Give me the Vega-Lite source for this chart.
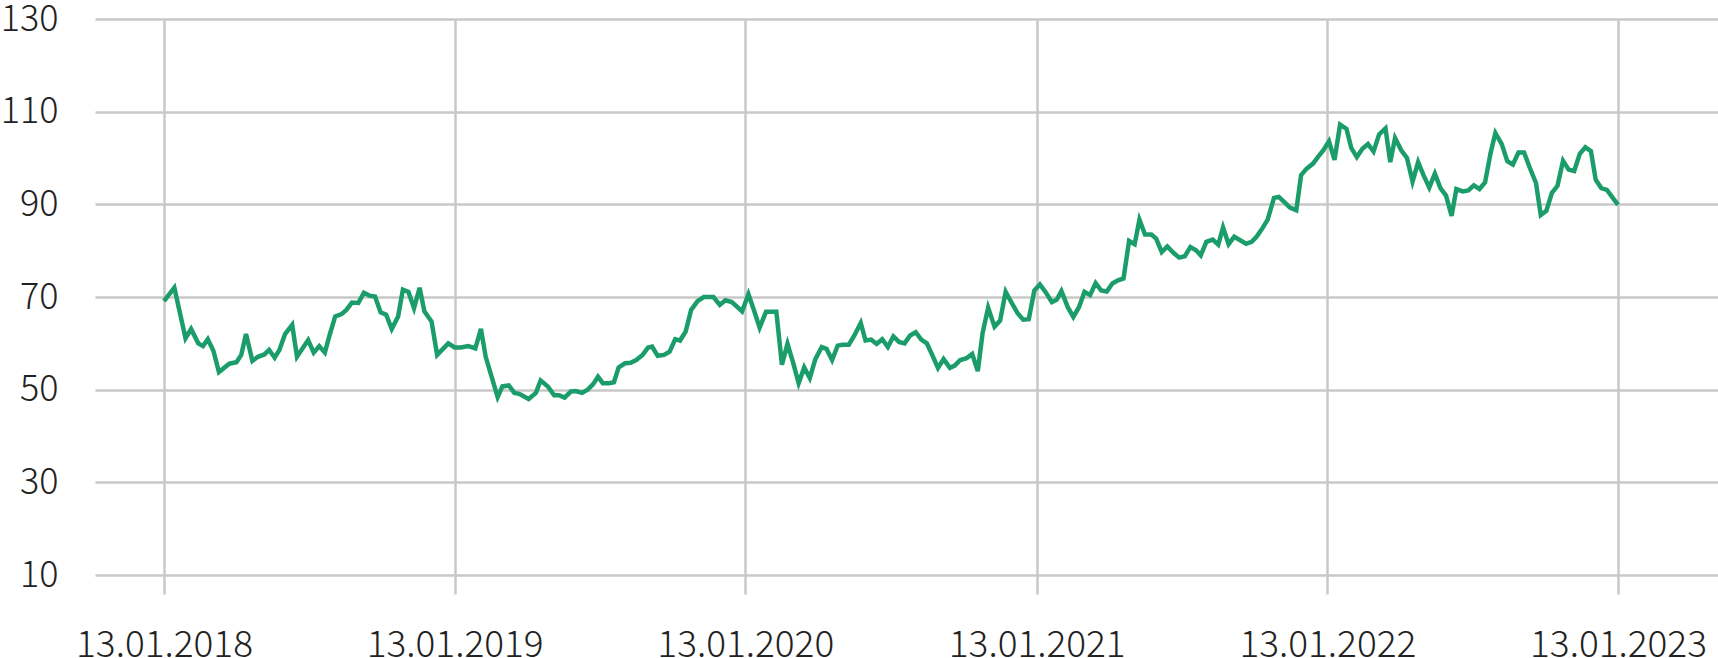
{
  "$schema": "https://vega.github.io/schema/vega-lite/v6.json",
  "autosize": {"type": "none"},
  "width": 1623,
  "height": 556,
  "padding": {"left": 95, "top": 19, "right": 0, "bottom": 83},
  "background": "white",
  "config": {"view": {"stroke": null}},
  "data": {"values": [
    {"date":"2018-01-13","value":69.1},{"date":"2018-01-26","value":72.0},{"date":"2018-02-09","value":61.1},{"date":"2018-02-16","value":63.1},{"date":"2018-02-25","value":60.0},{"date":"2018-03-03","value":59.4},{"date":"2018-03-09","value":60.9},{"date":"2018-03-16","value":58.4},{"date":"2018-03-23","value":53.8},{"date":"2018-04-05","value":55.6},{"date":"2018-04-14","value":55.9},{"date":"2018-04-20","value":57.5},{"date":"2018-04-26","value":62.0},{"date":"2018-05-04","value":56.2},{"date":"2018-05-11","value":57.1},{"date":"2018-05-19","value":57.6},{"date":"2018-05-25","value":58.6},{"date":"2018-06-01","value":56.9},{"date":"2018-06-07","value":58.6},{"date":"2018-06-14","value":62.0},{"date":"2018-06-23","value":64.0},{"date":"2018-06-29","value":57.1},{"date":"2018-07-13","value":60.7},{"date":"2018-07-20","value":58.0},{"date":"2018-07-27","value":59.4},{"date":"2018-08-03","value":58.0},{"date":"2018-08-09","value":61.8},{"date":"2018-08-16","value":65.8},{"date":"2018-08-24","value":66.3},{"date":"2018-08-30","value":67.2},{"date":"2018-09-06","value":68.8},{"date":"2018-09-14","value":68.7},{"date":"2018-09-21","value":70.9},{"date":"2018-09-28","value":70.3},{"date":"2018-10-05","value":70.1},{"date":"2018-10-12","value":66.7},{"date":"2018-10-19","value":66.2},{"date":"2018-10-26","value":63.1},{"date":"2018-11-03","value":65.8},{"date":"2018-11-09","value":71.6},{"date":"2018-11-16","value":71.1},{"date":"2018-11-23","value":67.6},{"date":"2018-11-30","value":72.0},{"date":"2018-12-06","value":66.9},{"date":"2018-12-15","value":64.7},{"date":"2018-12-22","value":57.5},{"date":"2019-01-05","value":60.0},{"date":"2019-01-13","value":59.1},
    {"date":"2019-01-21","value":59.1},{"date":"2019-01-30","value":59.4},{"date":"2019-02-08","value":58.9},{"date":"2019-02-15","value":63.1},{"date":"2019-02-21","value":57.1},{"date":"2019-03-08","value":48.4},{"date":"2019-03-14","value":50.7},{"date":"2019-03-22","value":50.9},{"date":"2019-03-29","value":49.3},{"date":"2019-04-04","value":49.1},{"date":"2019-04-16","value":48.0},{"date":"2019-04-25","value":49.3},{"date":"2019-05-01","value":52.0},{"date":"2019-05-10","value":50.7},{"date":"2019-05-18","value":48.8},{"date":"2019-05-24","value":48.8},{"date":"2019-05-31","value":48.3},{"date":"2019-06-08","value":49.6},{"date":"2019-06-14","value":49.7},{"date":"2019-06-22","value":49.3},{"date":"2019-06-29","value":50.0},{"date":"2019-07-06","value":51.2},{"date":"2019-07-12","value":52.8},{"date":"2019-07-18","value":51.4},{"date":"2019-07-26","value":51.4},{"date":"2019-08-01","value":51.6},{"date":"2019-08-07","value":54.8},{"date":"2019-08-15","value":55.7},{"date":"2019-08-22","value":55.8},{"date":"2019-08-29","value":56.4},{"date":"2019-09-06","value":57.5},{"date":"2019-09-13","value":59.1},{"date":"2019-09-18","value":59.3},{"date":"2019-09-25","value":57.3},{"date":"2019-10-03","value":57.5},{"date":"2019-10-10","value":58.2},{"date":"2019-10-17","value":60.9},{"date":"2019-10-23","value":60.6},{"date":"2019-10-30","value":62.5},{"date":"2019-11-06","value":67.2},{"date":"2019-11-14","value":69.1},{"date":"2019-11-22","value":70.0},{"date":"2019-12-04","value":70.0},{"date":"2019-12-12","value":68.3},{"date":"2019-12-19","value":69.3},{"date":"2019-12-27","value":68.9},{"date":"2020-01-02","value":68.0},{"date":"2020-01-09","value":66.9},{"date":"2020-01-17","value":70.6},
    {"date":"2020-01-24","value":67.1},{"date":"2020-01-31","value":63.4},{"date":"2020-02-08","value":66.8},{"date":"2020-02-21","value":66.8},{"date":"2020-02-28","value":55.4},{"date":"2020-03-06","value":59.9},{"date":"2020-03-13","value":55.9},{"date":"2020-03-20","value":51.4},{"date":"2020-03-27","value":54.8},{"date":"2020-04-03","value":52.5},{"date":"2020-04-10","value":56.6},{"date":"2020-04-18","value":59.2},{"date":"2020-04-24","value":58.8},{"date":"2020-05-01","value":56.4},{"date":"2020-05-08","value":59.5},{"date":"2020-05-14","value":59.7},{"date":"2020-05-22","value":59.7},{"date":"2020-05-29","value":61.7},{"date":"2020-06-06","value":64.4},{"date":"2020-06-12","value":60.6},{"date":"2020-06-19","value":60.8},{"date":"2020-06-26","value":59.9},{"date":"2020-07-03","value":60.9},{"date":"2020-07-10","value":59.2},{"date":"2020-07-17","value":61.5},{"date":"2020-07-24","value":60.3},{"date":"2020-07-31","value":60.0},{"date":"2020-08-07","value":61.7},{"date":"2020-08-14","value":62.4},{"date":"2020-08-21","value":60.8},{"date":"2020-08-28","value":60.0},{"date":"2020-09-04","value":57.4},{"date":"2020-09-11","value":54.7},{"date":"2020-09-18","value":56.6},{"date":"2020-09-26","value":54.7},{"date":"2020-10-02","value":55.2},{"date":"2020-10-09","value":56.4},{"date":"2020-10-17","value":56.8},{"date":"2020-10-24","value":57.7},{"date":"2020-10-31","value":54.0},{"date":"2020-11-06","value":62.2},{"date":"2020-11-13","value":67.7},{"date":"2020-11-21","value":63.6},{"date":"2020-11-28","value":64.9},{"date":"2020-12-05","value":71.1},{"date":"2020-12-13","value":68.6},{"date":"2020-12-20","value":66.5},{"date":"2020-12-27","value":65.1},{"date":"2021-01-03","value":65.2},{"date":"2021-01-10","value":71.4},{"date":"2021-01-17","value":72.7},
    {"date":"2021-01-24","value":71.1},{"date":"2021-02-01","value":68.9},{"date":"2021-02-07","value":69.4},{"date":"2021-02-13","value":71.3},{"date":"2021-02-21","value":67.8},{"date":"2021-02-28","value":65.7},{"date":"2021-03-07","value":67.8},{"date":"2021-03-14","value":71.1},{"date":"2021-03-21","value":70.4},{"date":"2021-03-28","value":73.0},{"date":"2021-04-04","value":71.4},{"date":"2021-04-11","value":71.2},{"date":"2021-04-18","value":72.9},{"date":"2021-04-25","value":73.6},{"date":"2021-05-02","value":74.0},{"date":"2021-05-09","value":82.1},{"date":"2021-05-16","value":81.4},{"date":"2021-05-22","value":86.7},{"date":"2021-05-29","value":83.5},{"date":"2021-06-06","value":83.5},{"date":"2021-06-12","value":82.6},{"date":"2021-06-19","value":79.7},{"date":"2021-06-26","value":80.9},{"date":"2021-07-04","value":79.5},{"date":"2021-07-11","value":78.5},{"date":"2021-07-18","value":78.8},{"date":"2021-07-25","value":80.8},{"date":"2021-08-01","value":80.1},{"date":"2021-08-07","value":79.0},{"date":"2021-08-14","value":81.9},{"date":"2021-08-22","value":82.4},{"date":"2021-08-29","value":81.3},{"date":"2021-09-04","value":85.0},{"date":"2021-09-11","value":81.4},{"date":"2021-09-18","value":83.0},{"date":"2021-09-26","value":82.2},{"date":"2021-10-03","value":81.5},{"date":"2021-10-10","value":81.9},{"date":"2021-10-16","value":83.0},{"date":"2021-10-23","value":84.7},{"date":"2021-10-30","value":86.7},{"date":"2021-11-07","value":91.4},{"date":"2021-11-13","value":91.6},{"date":"2021-11-20","value":90.5},{"date":"2021-11-27","value":89.3},{"date":"2021-12-05","value":88.7},{"date":"2021-12-11","value":96.3},{"date":"2021-12-18","value":97.7},{"date":"2021-12-26","value":98.8},{"date":"2022-01-02","value":100.4},{"date":"2022-01-08","value":101.7},{"date":"2022-01-15","value":103.6},
    {"date":"2022-01-22","value":99.6},{"date":"2022-01-29","value":107.2},{"date":"2022-02-06","value":106.3},{"date":"2022-02-12","value":102.2},{"date":"2022-02-19","value":100.2},{"date":"2022-02-26","value":102.0},{"date":"2022-03-05","value":103.0},{"date":"2022-03-12","value":101.4},{"date":"2022-03-19","value":105.1},{"date":"2022-03-27","value":106.4},{"date":"2022-04-02","value":99.1},{"date":"2022-04-08","value":104.3},{"date":"2022-04-16","value":101.6},{"date":"2022-04-23","value":100.0},{"date":"2022-04-30","value":94.9},{"date":"2022-05-07","value":99.1},{"date":"2022-05-14","value":96.2},{"date":"2022-05-21","value":93.6},{"date":"2022-05-28","value":96.6},{"date":"2022-06-04","value":93.5},{"date":"2022-06-11","value":91.9},{"date":"2022-06-18","value":87.5},{"date":"2022-06-24","value":93.3},{"date":"2022-07-02","value":92.8},{"date":"2022-07-09","value":93.0},{"date":"2022-07-16","value":94.1},{"date":"2022-07-23","value":93.3},{"date":"2022-07-30","value":94.7},{"date":"2022-08-06","value":101.1},{"date":"2022-08-12","value":105.4},{"date":"2022-08-20","value":103.0},{"date":"2022-08-27","value":99.3},{"date":"2022-09-03","value":98.6},{"date":"2022-09-10","value":101.2},{"date":"2022-09-17","value":101.2},{"date":"2022-09-24","value":98.0},{"date":"2022-10-02","value":94.6},{"date":"2022-10-08","value":87.7},{"date":"2022-10-15","value":88.6},{"date":"2022-10-22","value":92.5},{"date":"2022-10-29","value":94.0},{"date":"2022-11-05","value":99.4},{"date":"2022-11-12","value":97.5},{"date":"2022-11-19","value":97.2},{"date":"2022-11-26","value":100.9},{"date":"2022-12-03","value":102.3},{"date":"2022-12-10","value":101.5},{"date":"2022-12-16","value":95.3},{"date":"2022-12-23","value":93.5},{"date":"2022-12-30","value":93.1},{"date":"2023-01-13","value":89.9}
  ]},
  "mark": {"type": "line", "color": "#1b9d6b", "strokeWidth": 4.5},
  "encoding": {
    "x": {
      "field": "date", "type": "temporal",
      "scale": {"type": "utc", "domain": [
        {"year": 2017, "month": 10, "date": 18, "hours": 8, "utc": true},
        {"year": 2023, "month": 5, "date": 18, "hours": 14, "utc": true}
      ]},
      "axis": {
        "title": null,
        "values": [
          {"year": 2018, "month": 1, "date": 13, "utc": true},
          {"year": 2019, "month": 1, "date": 13, "utc": true},
          {"year": 2020, "month": 1, "date": 13, "utc": true},
          {"year": 2021, "month": 1, "date": 13, "utc": true},
          {"year": 2022, "month": 1, "date": 13, "utc": true},
          {"year": 2023, "month": 1, "date": 13, "utc": true}
        ],
        "labelExpr": "utcFormat(datum.value, '%d.%m.%Y')",
        "domain": false,
        "grid": true, "gridColor": "#c8c8c8", "gridWidth": 2.5,
        "ticks": true, "tickColor": "#c8c8c8", "tickWidth": 2.5, "tickSize": 19,
        "labelFont": "Noto Sans CJK SC", "labelFontWeight": 300, "labelFontSize": 37, "labelColor": "#222222",
        "labelPadding": 33, "labelBaseline": "top", "labelFlush": false, "labelOverlap": false
      }
    },
    "y": {
      "field": "value", "type": "quantitative",
      "scale": {"domain": [10, 130], "nice": false, "zero": false},
      "axis": {
        "title": null,
        "values": [10, 30, 50, 70, 90, 110, 130],
        "domain": false, "ticks": false,
        "grid": true, "gridColor": "#c8c8c8", "gridWidth": 2.5,
        "labelFont": "Noto Sans CJK SC", "labelFontWeight": 300, "labelFontSize": 36, "labelColor": "#222222",
        "labelPadding": 37, "labelFlush": false, "labelOverlap": false
      }
    }
  }
}
